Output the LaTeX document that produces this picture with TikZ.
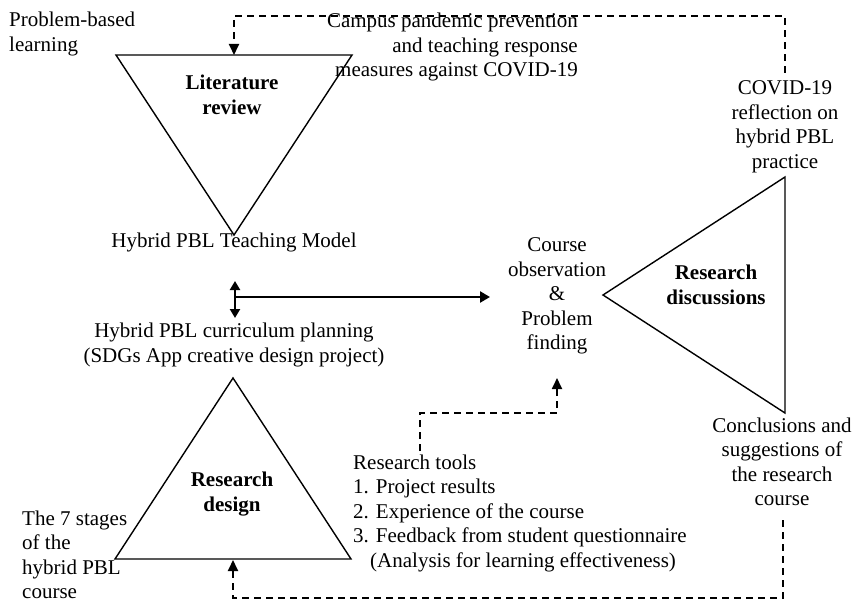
\documentclass[tikz,border=0pt]{standalone}
\usepackage{fontspec}
\setmainfont{Liberation Serif}
\usetikzlibrary{arrows.meta}
\begin{document}
\begin{tikzpicture}[x=1pt,y=-1pt,
  txt/.style={font=\fontsize{21}{24.5}\selectfont, inner sep=0pt, align=center},
  bold/.style={txt, font=\fontsize{21}{24.5}\selectfont\bfseries},
  tri/.style={line width=1.4pt, line join=miter},
  dashline/.style={dash pattern=on 7pt off 5pt, line width=1.8pt},
  tipd/.style={-{Triangle[length=11pt,width=10pt]}},
  solidarrow/.style={line width=2.3pt}
]
\useasboundingbox (0,0) rectangle (853,602);

% texts
\node[txt, align=left, anchor=west] (pbl) at (9,34) {Problem-based\\learning};
\node[txt, align=right, anchor=east] (campus) at (578,47) {Campus pandemic prevention\\and teaching response\\measures against COVID-19};
\node[bold] (lit) at (232,95) {Literature\\review};
\node[txt] (model) at (234,242) {Hybrid PBL Teaching Model};
\node[txt] (plan) at (234,345) {Hybrid PBL curriculum planning\\(SDGs App creative design project)};
\node[bold] (rd) at (232,494) {Research\\design};
\node[txt, align=left, anchor=west] (stages) at (22,555) {The 7 stages\\of the\\hybrid PBL\\course};
\node[txt, align=left, anchor=west] (tools) at (353,513) {Research tools\\1. Project results\\2. Experience of the course\\3. Feedback from student questionnaire\\\hspace{17pt}(Analysis for learning effectiveness)};
\node[txt] (obs) at (557,296) {Course\\observation\\\&\\Problem\\finding};
\node[bold] (disc) at (716,285) {Research\\discussions};
\node[txt] (covid) at (785,127) {COVID-19\\reflection on\\hybrid PBL\\practice};
\node[txt] (concl) at (782,462) {Conclusions and\\suggestions of\\the research\\course};

% triangles
\coordinate (t1a) at (116,55);
\coordinate (t1b) at (352,55);
\coordinate (t1c) at (234,235);
\coordinate (t1m) at (234,55);
\draw[tri] (t1a) -- (t1b) -- (t1c) -- cycle;

\coordinate (b1) at (233,378);
\coordinate (b2) at (115,559);
\coordinate (b3) at (351,559);
\coordinate (b1m) at (233,559);
\draw[tri] (b1) -- (b2) -- (b3) -- cycle;

\coordinate (r1) at (603,295);
\coordinate (r2) at (785,177);
\coordinate (r3) at (785,413);
\draw[tri] (r1) -- (r2) -- (r3) -- cycle;

% top dashed connector
\coordinate (topr) at (785,16);
\coordinate (topl) at (234,16);
\draw[dashline, tipd] ([yshift=8pt]covid.north) -- (topr) -- (topl) -- (t1m);

% bottom dashed connector
\coordinate (botr) at (783,598);
\coordinate (botl) at (233,598);
\draw[dashline, tipd] ([yshift=-14pt,xshift=1pt]concl.south) -- (botr) -- (botl) -- ([yshift=-1pt]b1m);

% research tools dashed connector
\coordinate (tl0) at (420,451);
\coordinate (tl1) at (420,413);
\coordinate (tl2) at (557,413);
\coordinate (tl3) at (557,378);
\draw[dashline, tipd] (tl0) -- (tl1) -- (tl2) -- (tl3);

% middle arrows
\coordinate (va) at (235,281);
\coordinate (vb) at (235,318);
\coordinate (hm) at (235,297);
\coordinate (ho) at (490,297);
\draw[solidarrow, {Triangle[length=9pt,width=10pt]}-{Triangle[length=9pt,width=10pt]}] (va) -- (vb);
\draw[solidarrow, -{Triangle[length=10pt,width=11pt]}] (hm) -- (ho);
\end{tikzpicture}
\end{document}
